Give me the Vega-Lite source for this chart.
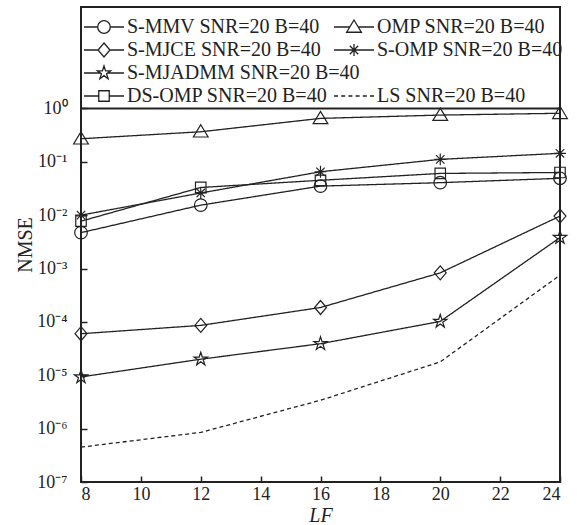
{
  "$schema": "https://vega.github.io/schema/vega-lite/v6.json",
  "width": 479,
  "height": 475,
  "autosize": "none",
  "padding": {"left": 81, "top": 7, "right": 17, "bottom": 43},
  "background": "white",
  "config": {
    "view": {"stroke": "#222", "strokeWidth": 2},
    "font": "Liberation Serif",
    "axis": {
      "labelFont": "Liberation Serif",
      "titleFont": "Liberation Serif",
      "labelColor": "#222",
      "titleColor": "#222",
      "tickColor": "#222",
      "domain": false,
      "grid": false,
      "labelFontSize": 18,
      "titleFontSize": 20,
      "titleFontWeight": "normal",
      "tickWidth": 1.5
    }
  },
  "data": {
    "values": [
      {"x": 8, "series": "S-MMV SNR=20 B=40", "nmse": 0.0047},
      {"x": 12, "series": "S-MMV SNR=20 B=40", "nmse": 0.0154},
      {"x": 16, "series": "S-MMV SNR=20 B=40", "nmse": 0.035},
      {"x": 20, "series": "S-MMV SNR=20 B=40", "nmse": 0.0406},
      {"x": 24, "series": "S-MMV SNR=20 B=40", "nmse": 0.049},
      {"x": 8, "series": "OMP SNR=20 B=40", "nmse": 0.27},
      {"x": 12, "series": "OMP SNR=20 B=40", "nmse": 0.365},
      {"x": 16, "series": "OMP SNR=20 B=40", "nmse": 0.65},
      {"x": 20, "series": "OMP SNR=20 B=40", "nmse": 0.75},
      {"x": 24, "series": "OMP SNR=20 B=40", "nmse": 0.81},
      {"x": 8, "series": "S-MJCE SNR=20 B=40", "nmse": 0.00006},
      {"x": 12, "series": "S-MJCE SNR=20 B=40", "nmse": 0.000086},
      {"x": 16, "series": "S-MJCE SNR=20 B=40", "nmse": 0.000186},
      {"x": 20, "series": "S-MJCE SNR=20 B=40", "nmse": 0.00083},
      {"x": 24, "series": "S-MJCE SNR=20 B=40", "nmse": 0.0096},
      {"x": 8, "series": "S-OMP SNR=20 B=40", "nmse": 0.01},
      {"x": 12, "series": "S-OMP SNR=20 B=40", "nmse": 0.026},
      {"x": 16, "series": "S-OMP SNR=20 B=40", "nmse": 0.065},
      {"x": 20, "series": "S-OMP SNR=20 B=40", "nmse": 0.111},
      {"x": 24, "series": "S-OMP SNR=20 B=40", "nmse": 0.144},
      {"x": 8, "series": "S-MJADMM SNR=20 B=40", "nmse": 0.0000093},
      {"x": 12, "series": "S-MJADMM SNR=20 B=40", "nmse": 0.00002},
      {"x": 16, "series": "S-MJADMM SNR=20 B=40", "nmse": 0.000039},
      {"x": 20, "series": "S-MJADMM SNR=20 B=40", "nmse": 0.000102},
      {"x": 24, "series": "S-MJADMM SNR=20 B=40", "nmse": 0.0038},
      {"x": 8, "series": "DS-OMP SNR=20 B=40", "nmse": 0.0077},
      {"x": 12, "series": "DS-OMP SNR=20 B=40", "nmse": 0.033},
      {"x": 16, "series": "DS-OMP SNR=20 B=40", "nmse": 0.045},
      {"x": 20, "series": "DS-OMP SNR=20 B=40", "nmse": 0.0605},
      {"x": 24, "series": "DS-OMP SNR=20 B=40", "nmse": 0.063},
      {"x": 8, "series": "LS SNR=20 B=40", "nmse": 0.00000045},
      {"x": 12, "series": "LS SNR=20 B=40", "nmse": 0.00000085},
      {"x": 16, "series": "LS SNR=20 B=40", "nmse": 0.0000034},
      {"x": 20, "series": "LS SNR=20 B=40", "nmse": 0.0000178},
      {"x": 24, "series": "LS SNR=20 B=40", "nmse": 0.00075}
    ]
  },
  "encoding": {
    "x": {
      "field": "x", "type": "quantitative",
      "scale": {"domain": [8, 24], "nice": false, "zero": false},
      "axis": {
        "values": [8, 10, 12, 14, 16, 18, 20, 22, 24],
        "format": "d",
        "tickSize": -6,
        "labelPadding": 9,
        "title": "LF",
        "titleFontStyle": "italic",
        "titlePadding": 2
      }
    },
    "y": {
      "field": "nmse", "type": "quantitative",
      "scale": {"type": "log", "domain": [1e-7, 79.43], "nice": false, "zero": false},
      "axis": {
        "values": [1e-7, 1e-6, 1e-5, 1e-4, 1e-3, 1e-2, 1e-1, 1],
        "labelExpr": "['10⁰','10⁻¹','10⁻²','10⁻³','10⁻⁴','10⁻⁵','10⁻⁶','10⁻⁷'][round(-log(datum.value)/LN10)]",
        "tickSize": -6,
        "labelPadding": 20,
        "title": "NMSE",
        "titlePadding": 1
      }
    }
  },
  "layer": [
    {
      "mark": {"type": "line", "color": "#222", "strokeWidth": 1.3},
      "encoding": {
        "strokeDash": {
          "field": "series", "type": "nominal",
          "scale": {
            "domain": ["S-MMV SNR=20 B=40", "OMP SNR=20 B=40", "S-MJCE SNR=20 B=40", "S-OMP SNR=20 B=40", "S-MJADMM SNR=20 B=40", "DS-OMP SNR=20 B=40", "LS SNR=20 B=40"],
            "range": [[1, 0], [1, 0], [1, 0], [1, 0], [1, 0], [1, 0], [4, 3]]
          },
          "legend": null
        }
      }
    },
    {
      "transform": [{"filter": {"not": {"field": "series", "equal": "LS SNR=20 B=40"}}}],
      "mark": {"type": "point", "filled": false, "color": "#222", "strokeWidth": 1.2, "size": 196, "opacity": 1},
      "encoding": {
        "shape": {
          "field": "series", "type": "nominal",
          "scale": {
            "domain": ["S-MMV SNR=20 B=40", "OMP SNR=20 B=40", "S-MJCE SNR=20 B=40", "S-OMP SNR=20 B=40", "S-MJADMM SNR=20 B=40", "DS-OMP SNR=20 B=40"],
            "range": [
              "M-0.9,0A0.9,0.9,0,1,0,0.9,0A0.9,0.9,0,1,0,-0.9,0Z",
              "M0,-1L1.05,0.75L-1.05,0.75Z",
              "M0,-1L0.85,0L0,1L-0.85,0Z",
              "M0,-0.85L0,0.85M-0.85,0L0.85,0M-0.6,-0.6L0.6,0.6M-0.6,0.6L0.6,-0.6",
              "M0,-1L0.223,-0.307L0.951,-0.309L0.361,0.117L0.588,0.809L0,0.38L-0.588,0.809L-0.361,0.117L-0.951,-0.309L-0.223,-0.307Z",
              "M-0.75,-0.75L0.75,-0.75L0.75,0.75L-0.75,0.75Z"
            ]
          },
          "legend": null
        }
      }
    },
    {
      "data": {"values": [{"x": 8, "nmse": 1}, {"x": 24, "nmse": 1}]},
      "mark": {"type": "line", "color": "#222", "strokeWidth": 2}
    },
    {
      "transform": [{"filter": {"field": "x", "lt": 0}}],
      "mark": {"type": "point", "filled": false, "color": "#222", "strokeWidth": 1.3, "opacity": 1},
      "encoding": {
        "shape": {
          "field": "series", "type": "nominal",
          "scale": {
            "domain": ["S-MMV SNR=20 B=40", " ", "S-MJCE SNR=20 B=40", "  ", "S-MJADMM SNR=20 B=40", "   ", "DS-OMP SNR=20 B=40", "    "],
            "range": [
              "M-1,0L-0.315,0M0.315,0L1,0M-0.315,0A0.315,0.315,0,1,0,0.315,0A0.315,0.315,0,1,0,-0.315,0Z",
              "M0,0",
              "M-1,0L-0.2975,0M0.2975,0L1,0M0,-0.35L0.2975,0L0,0.35L-0.2975,0Z",
              "M0,0",
              "M-1,0L-0.16,0M0.16,0L1,0M0,-0.35L0.078,-0.107L0.333,-0.108L0.126,0.041L0.206,0.283L0,0.133L-0.206,0.283L-0.126,0.041L-0.333,-0.108L-0.078,-0.107Z",
              "M0,0",
              "M-1,0L-0.2625,0M0.2625,0L1,0M-0.2625,-0.2625L0.2625,-0.2625L0.2625,0.2625L-0.2625,0.2625Z",
              "M0,0"
            ]
          },
          "legend": {
            "orient": "none",
            "direction": "horizontal",
            "gridAlign": "none",
            "legendX": 2,
            "legendY": -1,
            "columns": 2,
            "rowPadding": -8,
            "columnPadding": 300,
            "padding": 0,
            "title": null,
            "labelFont": "Liberation Serif",
            "labelFontSize": 20,
            "labelColor": "#222",
            "labelOffset": 2,
            "labelLimit": 400,
            "symbolSize": 1600,
            "symbolStrokeColor": "#222",
            "symbolStrokeWidth": 1.3,
            "symbolFillColor": "transparent"
          }
        }
      }
    },
    {
      "transform": [{"filter": {"field": "x", "lt": 0}}],
      "mark": {"type": "point", "filled": false, "color": "#222", "strokeWidth": 1.3, "opacity": 1},
      "encoding": {
        "shape": {
          "field": "series", "type": "nominal",
          "scale": {
            "domain": ["OMP SNR=20 B=40", " ", "S-OMP SNR=20 B=40", "  ", "   ", "    ", "LS SNR=20 B=40", "     "],
            "range": [
              "M-1,0L-0.21,0M0.21,0L1,0M0,-0.35L0.3675,0.2625L-0.3675,0.2625Z",
              "M0,0",
              "M-1,0L1,0M0,-0.3L0,0.3M-0.21,-0.21L0.21,0.21M-0.21,0.21L0.21,-0.21",
              "M0,0",
              "M0,0",
              "M0,0",
              "M-1,0L-0.8,0M-0.64,0L-0.44,0M-0.28,0L-0.08,0M0.08,0L0.28,0M0.44,0L0.64,0M0.8,0L1,0",
              "M0,0"
            ]
          },
          "legend": {
            "orient": "none",
            "direction": "horizontal",
            "gridAlign": "none",
            "legendX": 252,
            "legendY": -1,
            "columns": 2,
            "rowPadding": -8,
            "columnPadding": 300,
            "padding": 0,
            "title": null,
            "labelFont": "Liberation Serif",
            "labelFontSize": 20,
            "labelColor": "#222",
            "labelOffset": 2,
            "labelLimit": 400,
            "symbolSize": 1600,
            "symbolStrokeColor": "#222",
            "symbolStrokeWidth": 1.3,
            "symbolFillColor": "transparent"
          }
        }
      }
    }
  ],
  "resolve": {"scale": {"shape": "independent"}}
}
